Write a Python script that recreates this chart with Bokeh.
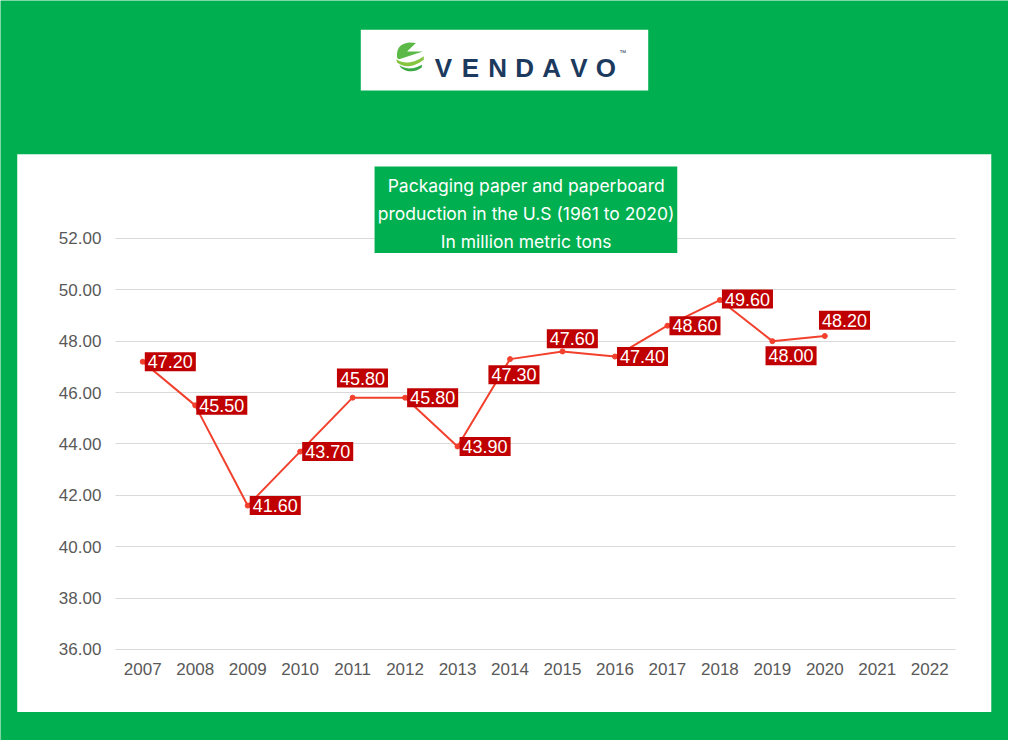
import numpy as np
from bokeh.plotting import figure
from bokeh.models import (ColumnDataSource, LinearAxis, FixedTicker, NumeralTickFormatter,
                          Range1d, Label, BoxAnnotation, PolyAnnotation)
from bokeh.core.properties import value
from bokeh.embed import file_html
from bokeh.resources import INLINE

# ---------------- data ----------------
years = list(range(2007, 2021))
production = [47.2, 45.5, 41.6, 43.7, 45.8, 45.8, 43.9, 47.3, 47.6, 47.4, 48.6, 49.6, 48.0, 48.2]
axis_years = list(range(2007, 2023))
y_ticks = [36, 38, 40, 42, 44, 46, 48, 50, 52]
title_lines = ["Packaging paper and paperboard",
               "production in the U.S (1961 to 2020)",
               "In million metric tons"]
brand = "VENDAVO"

# ---------------- style: label placement (px offsets, right / up) ----------------
label_dx = [28, 27, 28, 28, 10, 28, 28, 4, 10, 28, 28, 28, 19, 20]
label_dy = [0, 0, 0, 0, 20, 0, 0, -16, 13, 0, 0, 1, -15, 16]

GREEN = "#00b050"
LINE_RED = "#f2402d"
LABEL_RED = "#c00000"
GRID = "#d9d9d9"
TICK_TXT = "#595959"
NAVY = "#1c3a5e"

W, H = 1008, 740
REF_W, REF_H = 1024, 756
SX, SY = W / REF_W, H / REF_H
# reference-pixel calibration of the chart scales
X0_PX, DX_PX = 144.5, 53.3
Y52_PX, DY_PX = 243.0, 26.25


def px2x(px):
    return 2007 + (px - X0_PX) / DX_PX


def py2y(py):
    return 52 + (Y52_PX - py) / DY_PX


p = figure(width=W, height=H, output_backend="svg", toolbar_location=None,
           x_range=Range1d(px2x(0), px2x(REF_W)),
           y_range=Range1d(py2y(REF_H), py2y(0)),
           x_axis_location=None, y_axis_location=None,
           min_border=0, min_border_left=0, min_border_right=0,
           min_border_top=0, min_border_bottom=0)
p.background_fill_color = GREEN
p.border_fill_color = GREEN
p.outline_line_color = None
p.xgrid.visible = False
p.ygrid.visible = False

# white chart panel
p.add_layout(BoxAnnotation(left=px2x(17), right=px2x(1006.5), top=py2y(157), bottom=py2y(727),
                           fill_color="white", fill_alpha=1, line_color=None, level="image"))

# y axis: ticks stretched across the plot act as the gridlines
yaxis = LinearAxis(ticker=FixedTicker(ticks=y_ticks), formatter=NumeralTickFormatter(format="0.00"),
                   fixed_location=px2x(970), major_tick_out=int(round(853 * SX)), major_tick_in=0,
                   major_tick_line_color=GRID, major_tick_line_width=1,
                   axis_line_color=None, minor_tick_line_color=None,
                   major_label_standoff=14, major_label_text_font="Liberation Sans",
                   major_label_text_font_size="17px", major_label_text_color=TICK_TXT,
                   level="underlay")
p.add_layout(yaxis, "left")

xaxis = LinearAxis(ticker=FixedTicker(ticks=axis_years), fixed_location=y_ticks[0],
                   major_tick_out=0, major_tick_in=0, major_tick_line_color=None,
                   axis_line_color=None, minor_tick_line_color=None,
                   major_label_standoff=14, major_label_text_font="Liberation Sans",
                   major_label_text_font_size="17px", major_label_text_color=TICK_TXT,
                   level="underlay")
p.add_layout(xaxis, "below")

src = ColumnDataSource(dict(x=years, y=production,
                            label=[f"{v:.2f}" for v in production],
                            dx=[d * SX for d in label_dx],
                            dy=[-d * SY for d in label_dy]))
p.line("x", "y", source=src, line_color=LINE_RED, line_width=2)
p.scatter("x", "y", source=src, size=5, fill_color=LINE_RED, line_color=LINE_RED)

p.text(x="x", y="y", text="label", source=src, x_offset="dx", y_offset="dy",
       text_align="center", text_baseline="middle", text_color="white",
       text_font=value("Liberation Sans"), text_font_size=value("18px"),
       background_fill_color=LABEL_RED, padding=3)

# title box
p.add_layout(BoxAnnotation(left=px2x(380), right=px2x(687.5), top=py2y(169.5), bottom=py2y(258),
                           fill_color=GREEN, fill_alpha=1, line_color=None))
for i, line in enumerate(title_lines):
    p.add_layout(Label(x=px2x(534), y=py2y(189.5 + 28.5 * i), text=line,
                       text_align="center", text_baseline="alphabetic",
                       text_font="Inter", text_font_size="17.5px", text_color="white"))

# logo
p.add_layout(BoxAnnotation(left=px2x(366), right=px2x(658), top=py2y(30), bottom=py2y(92),
                           fill_color="white", fill_alpha=1, line_color=None))


def qbez(a, c, b, n=14):
    t = np.linspace(0, 1, n)[:, None]
    a, c, b = map(np.asarray, (a, c, b))
    return (1 - t) ** 2 * a + 2 * (1 - t) * t * c + t ** 2 * b


def poly(points, color):
    pts = np.asarray(points)
    p.add_layout(PolyAnnotation(xs=[px2x(v) for v in pts[:, 0]], ys=[py2y(v) for v in pts[:, 1]],
                                fill_color=color, fill_alpha=1, line_color=None))


leaf = np.vstack([qbez((403, 59), (401, 44), (416, 43)),
                  [(422, 43.5), (413, 52), (429, 52), (405, 60)]])
poly(leaf, "#5bb947")
band1 = np.vstack([qbez((402, 60), (414, 68), (430, 57)), qbez((430, 60.5), (415, 72), (403, 63.5))])
poly(band1, "#86c540")
band2 = np.vstack([qbez((405, 66), (416, 73), (428, 65.5)), qbez((428, 68.5), (417, 76), (407, 69))])
poly(band2, "#3aa845")

for i, ch in enumerate(brand):
    p.add_layout(Label(x=px2x(450 + 27.5 * i), y=py2y(68.5), text=ch,
                       text_align="center", text_baseline="alphabetic",
                       text_font="Liberation Sans", text_font_style="bold",
                       text_font_size="26px", text_color=NAVY))
p.add_layout(Label(x=px2x(632), y=py2y(53), text="™", text_align="center",
                   text_baseline="alphabetic", text_font="Liberation Sans",
                   text_font_size="7px", text_color=NAVY))

open("out.html", "w").write(file_html(p, INLINE))
